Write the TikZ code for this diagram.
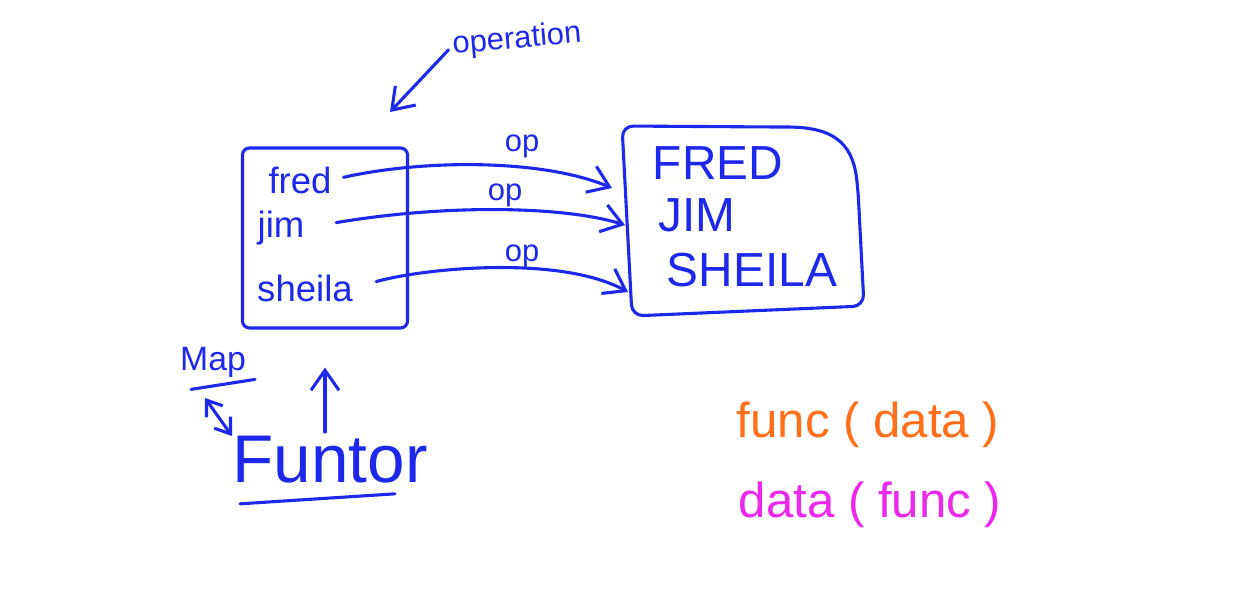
\documentclass[tikz,border=0pt]{standalone}
\usepackage{fontspec}
\setmainfont{Liberation Sans}
\usetikzlibrary{arrows.meta, positioning}

\definecolor{inkblue}{RGB}{30,40,235}
\definecolor{inkorange}{RGB}{255,110,25}
\definecolor{inkpink}{RGB}{235,40,235}

\begin{document}
\begin{tikzpicture}[
    x=0.025cm, y=-0.025cm,
    % Styles
    ink/.style={
        draw=inkblue,
        line width=2.2pt,
        line cap=round,
        line join=round
    },
    ink_arrow/.style={ink, -{Straight Barb[length=5mm, width=7mm]}},
    dbl_arrow/.style={ink, {Straight Barb[length=3.5mm, width=5mm]}-{Straight Barb[length=3.5mm, width=5mm]}},
    src_box/.style={
        ink,
        rectangle,
        rounded corners=5pt,
        minimum width=4.125cm,
        minimum height=4.5cm
    },
    name_label/.style={text=inkblue, font=\fontsize{26}{30}\selectfont, inner sep=0pt},
    set_label/.style={text=inkblue, font=\fontsize{34}{40}\selectfont, inner sep=0pt},
    op_label/.style={text=inkblue, font=\fontsize{22}{26}\selectfont, inner sep=0pt},
    note_label/.style={font=\fontsize{35}{42}\selectfont, inner sep=0pt}
]

    % --- Canvas ---
    \fill[white] (0,0) rectangle (1240,590);
    \useasboundingbox (0,0) rectangle (1240,590);

    % --- SOURCE (left box) ---
    \node[src_box] (src) at (325,238) {};
    \node[name_label] (fred) at (300,180) {fred};
    \node[name_label] (jim) at (281,228) {jim};
    \node[name_label] (sheila) at (305,288) {sheila};

    % --- TARGET (right box) ---
    \draw[ink, rounded corners=8pt] (622,126) -- (632,316) -- (864,306) -- (858,190)
        .. controls (852,140) and (830,127) .. (775,127) -- cycle;
    \node[set_label] (FRED) at (718,163) {FRED};
    \node[set_label] (JIM) at (697,215) {JIM};
    \node[set_label] (SHEILA) at (752,270) {SHEILA};

    \coordinate (in_fred) at (612,188);
    \coordinate (in_jim) at (625,225);
    \coordinate (in_sheila) at (628,292);

    % --- ARROWS ---
    \draw[ink_arrow, shorten <=0.3cm] (fred.east) .. controls (420,160) and (540,158) .. (in_fred);
    \draw[ink_arrow, shorten <=0.8cm] (jim.east) .. controls (440,205) and (560,205) .. (in_jim);
    \draw[ink_arrow, shorten <=0.6cm] (sheila.east) .. controls (425,268) and (560,255) .. (in_sheila);

    \node[op_label] (op1) at (522,146) {op};
    \node[op_label] (op2) at (505,195) {op};
    \node[op_label] (op3) at (522,256) {op};

    % --- Annotation: operation ---
    \node[op_label, rotate=5] (operation) at (517,40) {operation};
    \coordinate (op_tip) at (390,112);
    \draw[ink_arrow, shorten <=4pt] (operation.west) -- (op_tip);

    % --- Annotation: map / functor ---
    \node[op_label, font=\fontsize{24}{28}\selectfont] (map) at (213,362) {Map};
    \draw[ink] ([shift={(-22,12)}]map.south) -- ([shift={(42,2)}]map.south);

    \node[name_label, font=\fontsize{48}{56}\selectfont] (funtor) at (330,460) {Funtor};
    \draw[ink] ([shift={(-90,20)}]funtor.south) -- ([shift={(65,10)}]funtor.south);

    \coordinate (map_end) at (205,398);
    \coordinate (fun_end) at (232,436);
    \draw[dbl_arrow] (map_end) -- (fun_end);
    \draw[ink_arrow, shorten <=3pt, shorten >=0.95cm] (funtor.north -| src.south) -- (src.south);

    % --- Notes ---
    \node[note_label, text=inkorange] (fun_data) at (868,425) {func ( data )};
    \node[note_label, text=inkpink] (data_fun) at (870,505) {data ( func )};

\end{tikzpicture}
\end{document}
